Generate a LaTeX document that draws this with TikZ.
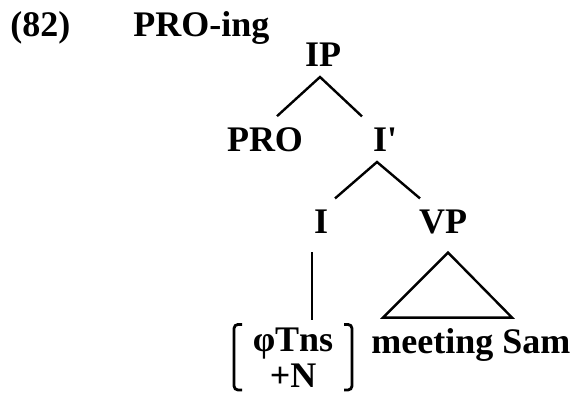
\documentclass[tikz,border=0pt]{standalone}
\usepackage{fontspec}
\setmainfont{Liberation Serif}
\usepackage{amsmath,amssymb}
\usetikzlibrary{positioning}
\tikzset{% labels of the tree and its lines
        cat/.style={font=\fontsize{18}{17}\selectfont\bfseries, inner sep=0pt, outer sep=5.5pt, anchor=base},
        txt/.style={font=\fontsize{18}{17}\selectfont\bfseries, inner sep=0pt, anchor=base west},
        branch/.style={line width=1.2pt},
        brack/.style={line width=1.4pt, rounded corners=2pt}
        }

\begin{document}
\begin{tikzpicture}[x=0.5pt,y=-0.5pt]
\useasboundingbox (0,0) rectangle (582,392);
\node [txt] (exno) at (10,36) {(82)};
\node [txt] (title) at (133,36) {PRO-ing};
\node [cat] (ip) at (323,66) {IP};
\node [cat] (pro) at (265,151) {PRO};
\node [cat] (ibar) at (385,151) {I\textquotesingle};
\node [cat] (infl) at (321,233) {I};
\node [cat] (vp) at (443,233) {VP};
% last line of the features sits on the base
\node [cat, align=center, minimum width=59pt, inner ysep=1.5pt, outer sep=0pt] (feat) at (293,387) {φTns\\[1pt]+N};
\node [txt] (comp) at (371,353) {meeting Sam};
% branches
\draw [branch] ([xshift=6pt]pro.north) -- ([xshift=-1.5pt]ip.south) -- ([xshift=-11.5pt]ibar.north);
\draw [branch] ([xshift=7pt]infl.north) -- ([xshift=-4pt]ibar.south) -- ([xshift=-11.5pt]vp.north);
\draw [branch, shorten >=2pt] ([xshift=-4.5pt,yshift=-4pt]infl.south) coordinate (stem) -- (stem |- feat.north);
\draw [branch] ([xshift=2.5pt,yshift=-4pt]vp.south) -- ++(-65,65) -- ++(129,0) -- cycle;
% brackets round the features
\draw [brack] ([xshift=4pt]feat.north west) -| (feat.south west) -- ++(8,0);
\draw [brack] ([xshift=-4pt]feat.north east) -| (feat.south east) -- ++(-8,0);
\end{tikzpicture}
\end{document}
